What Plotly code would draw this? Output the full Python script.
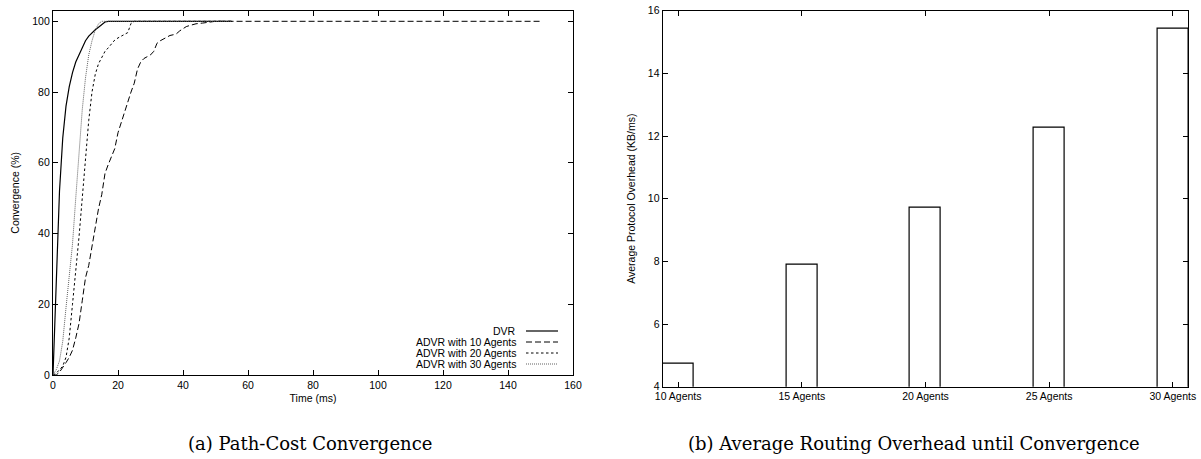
import plotly.graph_objects as go

# ---------------- data ----------------
dvr_t = [0, 1, 2, 3, 4, 5, 6, 7, 8, 9, 10, 11, 12, 13, 14, 15, 16, 17, 20, 30, 40, 50, 55]
dvr_y = [0, 29, 52, 67, 76, 81.5, 85.5, 88.5, 90.5, 92.5, 94.5, 95.8, 96.8, 97.6, 98.3, 99.1, 99.8, 100, 100, 100, 100, 100, 100]

a10_t = [0, 1, 2, 3, 4, 5, 6, 7, 8, 9, 10, 11, 12, 13, 14, 15, 16, 17, 18, 19, 20, 21, 22, 23, 24,
         25, 26, 27, 28, 29, 30, 31, 32, 33, 34, 35, 36, 37, 38, 39, 40, 41, 42, 44, 46, 48, 50, 60,
         80, 100, 120, 150]
a10_y = [0, 0, 0.8, 2, 3.5, 5, 7, 10.5, 14.5, 21, 27.5, 31, 36.5, 42, 47, 51, 57, 59.5, 62, 64,
         68.5, 71.5, 74.5, 77.5, 80, 82.5, 86.5, 88.5, 89.5, 90, 90.5, 91.5, 93.8, 94.5, 95, 95.7,
         96, 96.2, 96.5, 97.3, 98, 98.5, 98.8, 99.3, 99.5, 99.7, 100, 100, 100, 100, 100, 100]

a20_t = [0, 1, 2, 3, 4, 5, 6, 7, 8, 9, 10, 11, 12, 13, 14, 15, 16, 17, 18, 19, 20, 21, 22, 23, 24,
         25, 30, 40, 50, 55]
a20_y = [0, 0.5, 1.5, 2.5, 5, 10.5, 20, 29, 39, 50, 61, 72, 80, 85, 88, 90, 91.5, 92.5, 93.5, 94.7,
         95.3, 95.8, 96.3, 96.8, 99.4, 100, 100, 100, 100, 100]

a30_t = [0, 1, 2, 3, 4, 5, 6, 7, 8, 9, 10, 11, 12, 13, 14, 15, 20, 30, 40, 50, 55]
a30_y = [0, 1.5, 4, 9.5, 19, 29, 37, 50, 63, 75, 84, 90.5, 94.5, 97.5, 99.3, 100, 100, 100, 100, 100, 100]

series_names = ["DVR", "ADVR with 10 Agents", "ADVR with 20 Agents", "ADVR with 30 Agents"]

bar_cats = ["10 Agents", "15 Agents", "20 Agents", "25 Agents", "30 Agents"]
bar_vals = [4.72, 7.9, 9.7, 12.28, 15.44]

# ---------------- layout helpers ----------------
W, H = 1201, 459
def px(x):
    return x / W
def py(y):
    return 1 - y / H

FONT = "Liberation Sans, Arial, sans-serif"
SERIF = "DejaVu Serif, serif"

styles = [
    dict(color="black", width=1.2, dash="solid"),
    dict(color="black", width=1.0, dash="6px,3px"),
    dict(color="black", width=1.0, dash="2.5px,2.5px"),
    dict(color="#606060", width=1.0, dash="1px,1px"),
]

fig = go.Figure()
for (t, y), name, st in zip([(dvr_t, dvr_y), (a10_t, a10_y), (a20_t, a20_y), (a30_t, a30_y)],
                            series_names, styles):
    fig.add_trace(go.Scatter(x=t, y=y, mode="lines", name=name, line=st,
                             xaxis="x", yaxis="y", showlegend=False))

fig.add_trace(go.Bar(x=bar_cats, y=bar_vals, width=0.25,
                     marker=dict(color="white", line=dict(color="black", width=1.2)),
                     xaxis="x2", yaxis="y2", showlegend=False))

axis_common = dict(showline=True, linecolor="black", linewidth=1.2, mirror="ticks",
                   ticks="inside", ticklen=5, tickcolor="black", tickwidth=1,
                   showgrid=False, zeroline=False, automargin=False,
                   tickfont=dict(family=FONT, size=10.5, color="black"))

fig.update_layout(
    width=W, height=H,
    margin=dict(l=0, r=0, t=0, b=0, autoexpand=False),
    paper_bgcolor="white", plot_bgcolor="white",
    xaxis=dict(domain=[px(53), px(573)], range=[0, 160], dtick=20, anchor="y",
               title=dict(text="Time (ms)", font=dict(family=FONT, size=10.5, color="black"), standoff=4),
               **axis_common),
    yaxis=dict(domain=[py(375), py(10.7)], range=[0, 103], tickvals=[0, 20, 40, 60, 80, 100], anchor="x",
               title=dict(text="Convergence (%)", font=dict(family=FONT, size=10.5, color="black"), standoff=10),
               **axis_common),
    xaxis2=dict(domain=[px(662.7), px(1188.3)], type="category", range=[-0.125, 4.125], anchor="y2",
                **axis_common),
    yaxis2=dict(domain=[py(386.7), py(10.7)], range=[4, 16], dtick=2, anchor="x2",
                title=dict(text="Average Protocol Overhead (KB/ms)", font=dict(family=FONT, size=10.5, color="black"), standoff=10),
                **axis_common),
    bargap=0,
)

# manual gnuplot-style legend (text right, sample line to the right)
rows_y = [331, 342, 353, 364]
annotations = []
shapes = []
for name, st, ry in zip(series_names, styles, rows_y):
    annotations.append(dict(x=px(518), y=py(ry), xref="paper", yref="paper", text=name,
                            showarrow=False, xanchor="right", yanchor="middle",
                            font=dict(family=FONT, size=10.5, color="black")))
    shapes.append(dict(type="line", xref="paper", yref="paper", x0=px(526), x1=px(558),
                       y0=py(ry), y1=py(ry), line=st))

annotations.append(dict(x=px(310), y=py(443), xref="paper", yref="paper",
                        text="(a) Path-Cost Convergence", showarrow=False,
                        xanchor="center", yanchor="middle",
                        font=dict(family=SERIF, size=18, color="black")))
annotations.append(dict(x=px(914), y=py(443), xref="paper", yref="paper",
                        text="(b) Average Routing Overhead until Convergence", showarrow=False,
                        xanchor="center", yanchor="middle",
                        font=dict(family=SERIF, size=18, color="black")))

fig.update_layout(annotations=annotations, shapes=shapes)
fig.write_html("out.html", config={"displayModeBar": False},
               post_script="document.body.style.margin='0';document.body.style.padding='0';"
                           "document.body.style.overflow='hidden';")
